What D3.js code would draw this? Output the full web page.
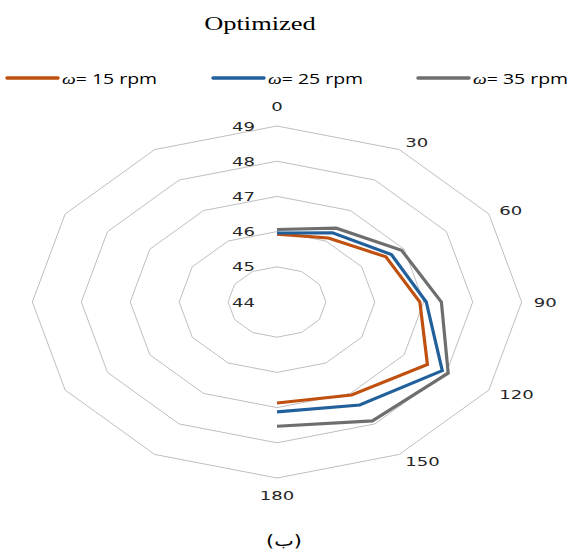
<!DOCTYPE html>
<html>
<head>
<meta charset="utf-8">
<script src="https://cdn.jsdelivr.net/npm/d3@7"></script>
<style>
  body { margin: 0; background: #fff; }
</style>
</head>
<body>
<div id="chart"></div>
<script>
// angle categories (12 spokes, only the first 7 carry data / labels)
const categories = ["0", "30", "60", "90", "120", "150", "180", "", "", "", "", ""]
const rpm15 = [45.93, 46.1, 46.57, 46.92, 47.55, 47.05, 46.87, null, null, null, null, null]
const rpm25 = [45.96, 46.27, 46.7, 47.05, 47.9, 47.38, 47.12, null, null, null, null, null]
const rpm35 = [46.06, 46.42, 46.94, 47.36, 48.04, 47.9, 47.53, null, null, null, null, null]
const ringTicks = [44, 45, 46, 47, 48, 49]
const seriesNames = ["\u03c9= 15 rpm", "\u03c9= 25 rpm", "\u03c9= 35 rpm"]

const width = 570, height = 552
const cx = 277, cy = 302
const SX = 1.39   // the original picture is stretched sideways

const colors = ["#C0500F", "#22609C", "#6E6E6E"]

const svg = d3.select("#chart").append("svg")
    .attr("width", width)
    .attr("height", height)

// radial scale, horizontally stretched
let r = d3.scaleLinear().domain([44, 49]).range([0, 176])
let angle = d3.scaleLinear().domain([0, categories.length]).range([0, 2 * Math.PI])

function pt(i, v) {
    let a = angle(i)
    return [cx + SX * r(v) * Math.sin(a), cy - r(v) * Math.cos(a)]
}

function stretchedText(x, y, txt) {
    return svg.append("text")
        .attr("transform", "translate(" + x + "," + y + ") scale(" + SX + ",1)")
        .text(txt)
}

// rings
ringTicks.slice(1).forEach(t => {
    let pts = categories.map((c, i) => pt(i, t))
    svg.append("polygon")
        .attr("points", pts.map(p => p.join(",")).join(" "))
        .attr("fill", "none")
        .attr("stroke", "#BFBFBF")
        .attr("stroke-width", 1)
})

// ring value labels
ringTicks.forEach(t => {
    stretchedText(cx - 22, cy - r(t), t)
        .attr("text-anchor", "end")
        .attr("dominant-baseline", "central")
        .style("font-family", "DejaVu Sans")
        .style("font-size", "13px")
        .attr("fill", "#262626")
})

// category labels
categories.forEach((c, i) => {
    if (!c) return
    let a = angle(i)
    let p = pt(i, 49)
    let s = Math.sin(a), co = Math.cos(a)
    let x = p[0] + 12 * s
    let y = p[1] - 8 * co
    let anchor = "middle", base = "central"
    if (s > 0.1) anchor = "start"
    if (co > 0.9) { y = p[1] - 12; base = "text-after-edge" }
    if (co < -0.9) { y = p[1] + 12; base = "hanging" }
    stretchedText(x, y, c)
        .attr("text-anchor", anchor)
        .attr("dominant-baseline", base)
        .style("font-family", "DejaVu Sans")
        .style("font-size", "13px")
        .attr("fill", "#262626")
})

// data lines
let line = d3.line()
    .defined(d => d.v != null)
    .x(d => pt(d.i, d.v)[0])
    .y(d => pt(d.i, d.v)[1])

const allSeries = [rpm15, rpm25, rpm35]
allSeries.forEach((s, k) => {
    let data = s.map((v, i) => ({i: i, v: v}))
    svg.append("path")
        .datum(data)
        .attr("fill", "none")
        .attr("stroke", colors[k])
        .attr("stroke-width", 3.2)
        .attr("stroke-linejoin", "miter")
        .attr("d", line)
})

// title
stretchedText(260, 30, "Optimized")
    .attr("text-anchor", "middle")
    .style("font-family", "Liberation Serif")
    .style("font-size", "19px")
    .attr("fill", "#000")

// legend
const legendX = [7, 213, 418]
seriesNames.forEach((name, k) => {
    svg.append("line")
        .attr("x1", legendX[k]).attr("x2", legendX[k] + 51)
        .attr("y1", 78).attr("y2", 78)
        .attr("stroke", colors[k])
        .attr("stroke-width", 3.5)
        .attr("stroke-linecap", "round")
    let t = stretchedText(legendX[k] + 55, 83.5, "")
        .style("font-family", "Open Sans")
        .style("font-size", "14px")
        .attr("fill", "#000")
    t.append("tspan")
        .style("font-family", "Liberation Serif")
        .style("font-style", "italic")
        .text(name.slice(0, 1))
    t.append("tspan").text(name.slice(1))
})

// caption
stretchedText(284, 546, "(\u0628)")
    .attr("text-anchor", "middle")
    .style("font-family", "DejaVu Sans")
    .style("font-size", "15px")
    .attr("fill", "#000")
</script>
</body>
</html>
